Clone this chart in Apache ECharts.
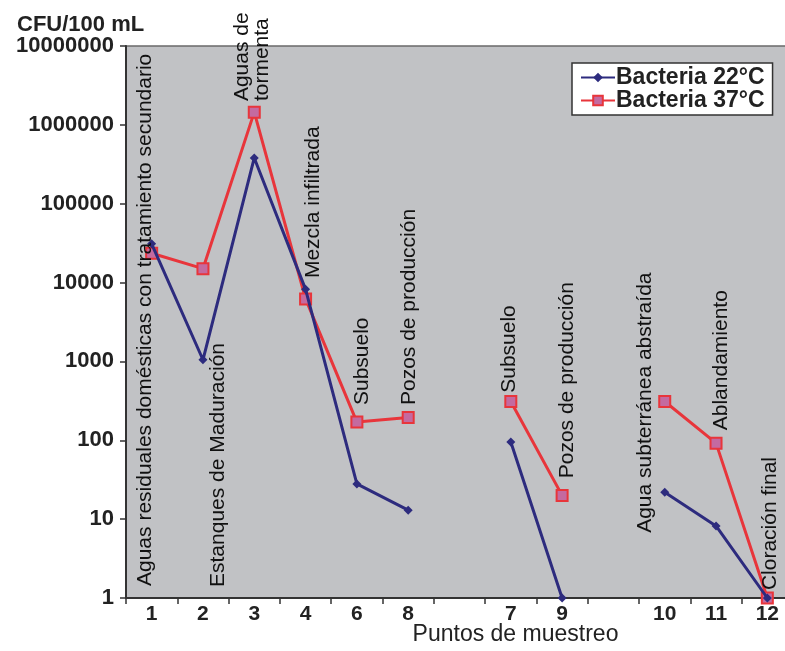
<!DOCTYPE html>
<html>
<head>
<meta charset="utf-8">
<script src="https://cdn.jsdelivr.net/npm/echarts@6/dist/echarts.min.js"></script>
<style>html,body{margin:0;padding:0;background:#fff}#c{width:785px;height:651px}</style>
</head>
<body>
<div id="c"></div>
<script>
// ---- data ----
var categories = ['1','2','3','4','6','8','','7','9','','10','11','12'];
var bacteria22 = [31000, 1050, 380000, 8200, 28, 13, null, 95, 1, null, 22, 8.2, 1];
var bacteria37 = [23500, 15000, 1450000, 6200, 170, 195, null, 310, 20, null, 310, 92, 1];
var seriesNames = ['Bacteria 22°C', 'Bacteria 37°C'];
var yTickLabels = ['1','10','100','1000','10000','100000','1000000','10000000'];
// annotation: category index, value at text start (bottom), x offset in px
var annoTexts = ['Aguas residuales domésticas con tratamiento secundario','Estanques de Maduración','Aguas de\ntormenta','Mezcla infiltrada','Subsuelo','Pozos de producción','Subsuelo','Pozos de producción','Agua subterránea abstraída','Ablandamiento','Cloración final'];
var annoCats = [0, 1, 2, 3, 4, 5, 7, 8, 10, 11, 12];
var annoVals = [1.42, 1.38, 2000000, 11400, 280, 280, 400, 33, 6.7, 134, 1.26];
var annoDx = [-6, 15, -2, 8, 5, 1, -2, 5, -20, 5, 3];

var FONT = '"Liberation Sans", Arial, sans-serif';
var chart = echarts.init(document.getElementById('c'));
chart.setOption({
  animation: false,
  backgroundColor: '#ffffff',
  textStyle: {fontFamily: FONT},
  title: {
    text: 'CFU/100 mL', left: 12, top: 9,
    textStyle: {fontFamily: FONT, fontSize: 22, fontWeight: 'bold', color: '#222'}
  },
  legend: {
    data: seriesNames,
    orient: 'vertical', left: 572, top: 63,
    backgroundColor: '#ffffff', borderColor: '#333', borderWidth: 1.5,
    padding: [3, 8, 3, 8], itemGap: 0, itemWidth: 34, itemHeight: 12,
    textStyle: {fontFamily: FONT, fontSize: 23, fontWeight: 'bold', color: '#222', padding: [0,0,0,-4]}
  },
  grid: {
    left: 126, right: -8, top: 46, bottom: 53,
    outerBoundsMode: 'none',
    show: true, backgroundColor: '#c1c2c5', borderColor: '#6a6a6a', borderWidth: 1.5,
    containLabel: false
  },
  xAxis: {
    type: 'category', data: categories, boundaryGap: true,
    axisLine: {lineStyle: {color: '#333', width: 2}},
    axisTick: {show: true, length: 6, lineStyle: {color: '#333', width: 1.5}, interval: 0},
    axisLabel: {fontFamily: FONT, fontSize: 21, fontWeight: 'bold', color: '#222', margin: 6, interval: 0},
    name: 'Puntos de muestreo', nameLocation: 'middle', nameGap: 25, nameMoveOverlap: false,
    nameTextStyle: {fontFamily: FONT, fontSize: 23, color: '#222', padding: [0, 0, 0, 112]},
    splitLine: {show: false}
  },
  yAxis: {
    type: 'log', logBase: 10, min: 1, max: 10000000,
    axisLine: {show: true, lineStyle: {color: '#333', width: 2}},
    axisTick: {show: true, length: 6, lineStyle: {color: '#333', width: 1.5}},
    axisLabel: {
      fontFamily: FONT, fontSize: 22, fontWeight: 'bold', color: '#222', margin: 12,
      formatter: function (v) { var i = Math.round(Math.log10(v)); return yTickLabels[i] || ''; }
    },
    splitLine: {show: false}, minorTick: {show: false}
  },
  series: [
    {
      name: seriesNames[0], type: 'line', data: bacteria22, connectNulls: false,
      symbol: 'diamond', symbolSize: 9,
      lineStyle: {color: '#2d2b7e', width: 3},
      itemStyle: {color: '#2d2b7e'}, z: 3
    },
    {
      name: seriesNames[1], type: 'line', data: bacteria37, connectNulls: false,
      symbol: 'rect', symbolSize: 11,
      lineStyle: {color: '#e8353b', width: 3},
      itemStyle: {color: '#c46aa0', borderColor: '#e8353b', borderWidth: 2}, z: 2
    }
  ]
});

var elements = [];
for (var i = 0; i < annoTexts.length; i++) {
  var p = chart.convertToPixel({gridIndex: 0}, [annoCats[i], annoVals[i]]);
  elements.push({
    type: 'text', x: p[0] + annoDx[i], y: p[1], rotation: Math.PI / 2, z: 10,
    style: {text: annoTexts[i], font: '21px ' + FONT, fill: '#111', align: 'left', verticalAlign: 'middle', lineHeight: 20}
  });
}
chart.setOption({graphic: {elements: elements}});
</script>
</body>
</html>
